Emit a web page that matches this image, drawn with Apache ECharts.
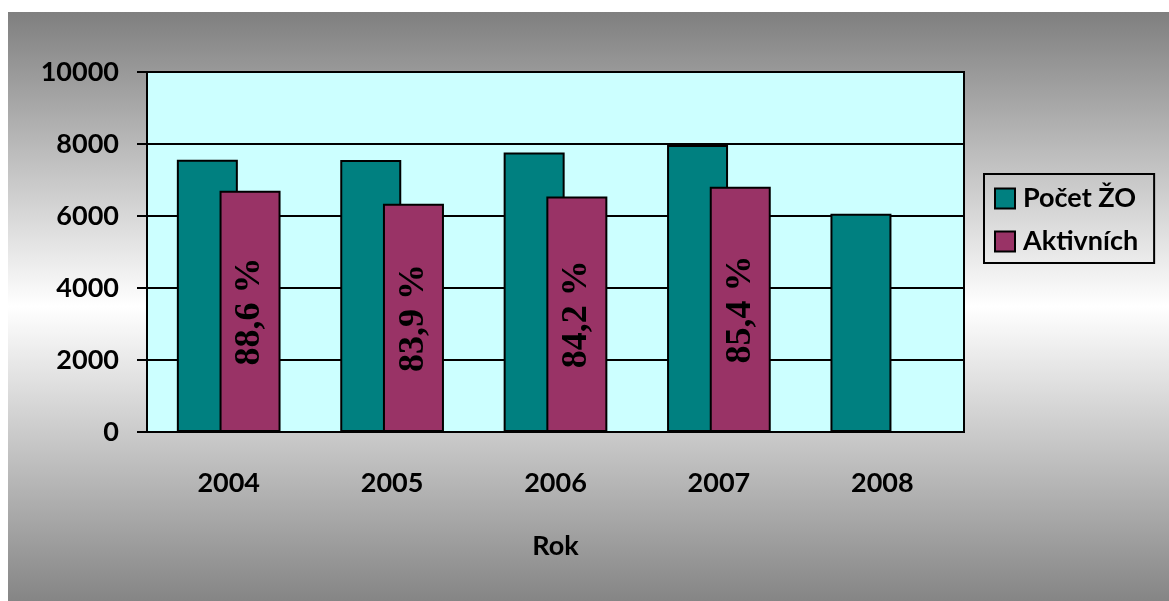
<!DOCTYPE html>
<html><head><meta charset="utf-8">
<script src="https://cdn.jsdelivr.net/npm/echarts@6/dist/echarts.min.js"></script>
<style>html,body{margin:0;padding:0;background:#fff}#c{width:1169px;height:601px}</style>
</head><body><div id="c"></div>
<script>
var years = ['2004','2005','2006','2007','2008'];
var pocet = [7560, 7555, 7765, 7975, 6060];
var aktivnich = [6700, 6340, 6540, 6810, null];
var pctLabels = ['88,6 %','83,9 %','84,2 %','85,4 %',''];
var yTicks = [0, 2000, 4000, 6000, 8000, 10000];

var chart = echarts.init(document.getElementById('c'));
var font = 'Lato';
chart.setOption({
  backgroundColor: '#ffffff',
  animation: false,
  graphic: [{
    type: 'rect', z: -10, silent: true,
    shape: {x: 8, y: 12, width: 1161, height: 589},
    style: {fill: {type: 'linear', x: 0, y: 0, x2: 0, y2: 1, colorStops: [
      {offset: 0, color: '#7f7f7f'}, {offset: 0.5, color: '#ffffff'}, {offset: 1, color: '#858585'}]}}
  }],
  grid: {left: 147, top: 72, right: 205, bottom: 169, show: true, backgroundColor: '#ccffff',
    borderColor: '#000', borderWidth: 2},
  legend: {
    orient: 'vertical', left: 984, top: 174,
    padding: [11, 16, 8, 10], itemGap: 16,
    itemWidth: 20, itemHeight: 20,
    borderColor: '#000', borderWidth: 2,
    icon: 'rect',
    textStyle: {fontFamily: font, fontWeight: 'bold', fontSize: 27, color: '#000', padding: [0, 0, 0, 3]},
    data: ['Počet ŽO', 'Aktivních']
  },
  xAxis: {
    type: 'category', data: years,
    name: 'Rok', nameLocation: 'middle', nameGap: 101,
    nameTextStyle: {fontFamily: font, fontWeight: 'bold', fontSize: 27, color: '#000'},
    axisLine: {lineStyle: {color: '#000', width: 2}},
    axisTick: {length: 10, lineStyle: {color: '#000', width: 2}},
    axisLabel: {fontFamily: font, fontWeight: 'bold', fontSize: 27, color: '#000', margin: 38}
  },
  yAxis: {
    type: 'value', min: yTicks[0], max: yTicks[yTicks.length - 1], interval: 2000,
    axisLine: {show: true, lineStyle: {color: '#000', width: 2}},
    axisTick: {show: true, length: 10, lineStyle: {color: '#000', width: 2}},
    splitLine: {lineStyle: {color: '#000', width: 2}},
    axisLabel: {fontFamily: font, fontWeight: 'bold', fontSize: 27, color: '#000', margin: 28,
      formatter: function (v) { return String(v); }}
  },
  series: [
    {name: 'Počet ŽO', type: 'bar', data: pocet, barWidth: 61, barGap: '-30%',
      itemStyle: {color: '#008080', borderColor: '#000', borderWidth: 2}},
    {name: 'Aktivních', type: 'bar', data: aktivnich, barWidth: 61,
      itemStyle: {color: '#993366', borderColor: '#000', borderWidth: 2},
      label: {show: true, position: 'inside', rotate: 90,
        fontFamily: 'Liberation Serif', fontWeight: 'bold', fontSize: 36, color: '#000',
        formatter: function (p) { return pctLabels[p.dataIndex]; }}}
  ]
});
</script></body></html>
